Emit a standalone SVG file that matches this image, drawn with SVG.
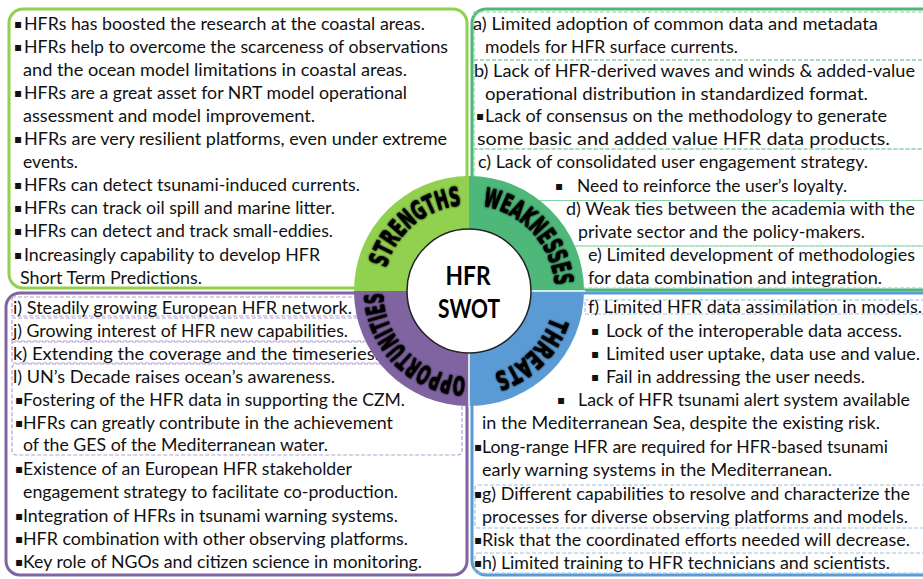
<svg xmlns="http://www.w3.org/2000/svg" width="923" height="579" viewBox="0 0 923 579">
<style>
.t{font-family:Lato,"Liberation Sans",sans-serif;font-size:17.3px;fill:#111}
.b{font-family:"DejaVu Sans",sans-serif;font-size:12px;fill:#111}
.box{fill:none;stroke-width:3}
.dw{fill:none;stroke:#86d3a6;stroke-width:1.2;stroke-dasharray:4 2}
.dt{fill:none;stroke:#9dc3e6;stroke-width:1.2;stroke-dasharray:4 2}
.dp{fill:none;stroke:#b4a2d4;stroke-width:1.2;stroke-dasharray:4 2}
.lab{font-family:"DejaVu Sans",sans-serif;font-weight:bold;font-size:26px;fill:#000;stroke:#000;stroke-width:0.6}
.ctr{font-family:Lato,"Liberation Sans",sans-serif;font-weight:bold;font-size:26px;fill:#000;text-anchor:middle}
</style>
<defs>
<path id="arc" d="M555,291 A86,86 0 1 1 383,291 A86,86 0 1 1 555,291"/>
<filter id="glow" x="-20%" y="-20%" width="140%" height="140%">
<feGaussianBlur in="SourceAlpha" stdDeviation="1.2" result="b"/>
<feMerge><feMergeNode in="b"/><feMergeNode in="SourceGraphic"/></feMerge>
</filter>
</defs>
<rect width="923" height="579" fill="#fff"/>

<g id="strengths">
<rect class="box" x="9" y="9" width="458" height="279" rx="14" stroke="#92d050"/>
<g class="b">
<text x="14" y="27.5">▪</text><text x="14" y="50.6">▪</text><text x="14" y="96.8">▪</text><text x="14" y="143">▪</text>
<text x="14" y="189.2">▪</text><text x="14" y="212.3">▪</text><text x="14" y="235.4">▪</text><text x="14" y="258.5">▪</text>
</g>
<g class="t">
<text x="24" y="29.5" textLength="401" lengthAdjust="spacingAndGlyphs">HFRs has boosted the research at the coastal areas.</text>
<text x="24" y="52.6" textLength="424" lengthAdjust="spacingAndGlyphs">HFRs help to overcome the scarceness of observations</text>
<text x="23" y="75.7" textLength="384" lengthAdjust="spacingAndGlyphs">and the ocean model limitations in coastal areas.</text>
<text x="24" y="98.8" textLength="383" lengthAdjust="spacingAndGlyphs">HFRs are a great asset for NRT model operational</text>
<text x="23" y="121.9" textLength="292" lengthAdjust="spacingAndGlyphs">assessment and model improvement.</text>
<text x="24" y="145" textLength="423" lengthAdjust="spacingAndGlyphs">HFRs are very resilient platforms, even under extreme</text>
<text x="23" y="168.1" textLength="55" lengthAdjust="spacingAndGlyphs">events.</text>
<text x="24" y="191.2" textLength="336" lengthAdjust="spacingAndGlyphs">HFRs can detect tsunami-induced currents.</text>
<text x="24" y="214.3" textLength="311" lengthAdjust="spacingAndGlyphs">HFRs can track oil spill and marine litter.</text>
<text x="24" y="237.4" textLength="309" lengthAdjust="spacingAndGlyphs">HFRs can detect and track small-eddies.</text>
<text x="24" y="260.5" textLength="296" lengthAdjust="spacingAndGlyphs">Increasingly capability to develop HFR</text>
<text x="20" y="283.6" textLength="182" lengthAdjust="spacingAndGlyphs">Short Term Predictions.</text>
</g>
</g>

<g id="weaknesses">
<rect class="box" x="472" y="9" width="500" height="281" rx="14" stroke="#4db879"/>
<rect class="dw" x="474" y="12" width="500" height="48"/>
<rect class="dw" x="474" y="60" width="500" height="89"/>
<rect class="dw" x="474" y="149" width="500" height="51.5"/>
<rect class="dw" x="474" y="200.5" width="500" height="45.5"/>
<rect class="dw" x="474" y="246" width="500" height="42"/>
<g class="b"><text x="476" y="120">▪</text><text x="555" y="190">▪</text></g>
<g class="t">
<text x="473" y="29.5" textLength="405" lengthAdjust="spacingAndGlyphs">a) Limited adoption of common data and metadata</text>
<text x="485" y="52.6" textLength="253" lengthAdjust="spacingAndGlyphs">models for HFR surface currents.</text>
<text x="474" y="76.5" textLength="441" lengthAdjust="spacingAndGlyphs">b) Lack of HFR-derived waves and winds &amp; added-value</text>
<text x="485" y="99.5" textLength="383" lengthAdjust="spacingAndGlyphs">operational distribution in standardized format.</text>
<text x="485" y="122" textLength="402" lengthAdjust="spacingAndGlyphs">Lack of consensus on the methodology to generate</text>
<text x="477" y="144.5" textLength="413" lengthAdjust="spacingAndGlyphs">some basic and added value HFR data products.</text>
<text x="478" y="168.3" textLength="390" lengthAdjust="spacingAndGlyphs">c) Lack of consolidated user engagement strategy.</text>
<text x="577" y="192" textLength="270" lengthAdjust="spacingAndGlyphs">Need to reinforce the user’s loyalty.</text>
<text x="566" y="215" textLength="349" lengthAdjust="spacingAndGlyphs">d) Weak ties between the academia with the</text>
<text x="578" y="238" textLength="287" lengthAdjust="spacingAndGlyphs">private sector and the policy-makers.</text>
<text x="588" y="261" textLength="327" lengthAdjust="spacingAndGlyphs">e) Limited development of methodologies</text>
<text x="588" y="284" textLength="294" lengthAdjust="spacingAndGlyphs">for data combination and integration.</text>
</g>
</g>

<g id="opportunities">
<rect class="box" x="6" y="293" width="461" height="282" rx="14" stroke="#8064a2"/>
<rect class="dp" x="12" y="297" width="370" height="19"/>
<rect class="dp" x="12" y="318" width="370" height="23"/>
<rect class="dp" x="12" y="342" width="370" height="21"/>
<rect class="dp" x="12" y="364" width="450" height="91" rx="4"/>
<g class="b">
<text x="15" y="404">▪</text><text x="15" y="427">▪</text><text x="15" y="473">▪</text>
<text x="15" y="519.5">▪</text><text x="15" y="543">▪</text><text x="15" y="566.3">▪</text>
</g>
<g class="t">
<text x="13" y="314" textLength="339" lengthAdjust="spacingAndGlyphs">i) Steadily growing European HFR network.</text>
<text x="13" y="337" textLength="335" lengthAdjust="spacingAndGlyphs">j) Growing interest of HFR new capabilities.</text>
<text x="13" y="359.5" textLength="366" lengthAdjust="spacingAndGlyphs">k) Extending the coverage and the timeseries.</text>
<text x="13" y="382.5" textLength="322" lengthAdjust="spacingAndGlyphs">l) UN’s Decade raises ocean’s awareness.</text>
<text x="23" y="406" textLength="382" lengthAdjust="spacingAndGlyphs">Fostering of the HFR data in supporting the CZM.</text>
<text x="23" y="429" textLength="370" lengthAdjust="spacingAndGlyphs">HFRs can greatly contribute in the achievement</text>
<text x="23" y="451" textLength="305" lengthAdjust="spacingAndGlyphs">of the GES of the Mediterranean water.</text>
<text x="23" y="475" textLength="329" lengthAdjust="spacingAndGlyphs">Existence of an European HFR stakeholder</text>
<text x="23" y="498.3" textLength="375" lengthAdjust="spacingAndGlyphs">engagement strategy to facilitate co-production.</text>
<text x="23" y="521.5" textLength="375" lengthAdjust="spacingAndGlyphs">Integration of HFRs in tsunami warning systems.</text>
<text x="23" y="545" textLength="385" lengthAdjust="spacingAndGlyphs">HFR combination with other observing platforms.</text>
<text x="23" y="568.3" textLength="399" lengthAdjust="spacingAndGlyphs">Key role of NGOs and citizen science in monitoring.</text>
</g>
</g>

<g id="threats">
<rect class="box" x="472" y="293" width="500" height="282" rx="14" stroke="#5b9bd5"/>
<rect class="dt" x="585" y="300" width="400" height="14"/>
<rect class="dt" x="475" y="485" width="500" height="43" rx="3"/>
<rect class="dt" x="475" y="553" width="500" height="20" rx="3"/>
<g class="b">
<text x="591" y="334.7">▪</text><text x="591" y="357.8">▪</text><text x="591" y="380.9">▪</text><text x="557" y="404">▪</text>
<text x="474" y="450.5">▪</text><text x="474" y="497.5">▪</text><text x="474" y="543.7">▪</text><text x="474" y="566.5">▪</text>
</g>
<g class="t">
<text x="588" y="313.3" textLength="334" lengthAdjust="spacingAndGlyphs">f) Limited HFR data assimilation in models.</text>
<text x="606" y="336.7" textLength="296" lengthAdjust="spacingAndGlyphs">Lock of the interoperable data access.</text>
<text x="606" y="359.8" textLength="314" lengthAdjust="spacingAndGlyphs">Limited user uptake, data use and value.</text>
<text x="606" y="382.9" textLength="259" lengthAdjust="spacingAndGlyphs">Fail in addressing the user needs.</text>
<text x="578" y="406" textLength="332" lengthAdjust="spacingAndGlyphs">Lack of HFR tsunami alert system available</text>
<text x="482" y="429" textLength="398" lengthAdjust="spacingAndGlyphs">in the Mediterranean Sea, despite the existing risk.</text>
<text x="482" y="452.5" textLength="406" lengthAdjust="spacingAndGlyphs">Long-range HFR are required for HFR-based tsunami</text>
<text x="482" y="476" textLength="350" lengthAdjust="spacingAndGlyphs">early warning systems in the Mediterranean.</text>
<text x="482" y="499.5" textLength="428" lengthAdjust="spacingAndGlyphs">g) Different capabilities to resolve and characterize the</text>
<text x="482" y="522.5" textLength="426" lengthAdjust="spacingAndGlyphs">processes for diverse observing platforms and models.</text>
<text x="482" y="545.7" textLength="428" lengthAdjust="spacingAndGlyphs">Risk that the coordinated efforts needed will decrease.</text>
<text x="482" y="568.5" textLength="408" lengthAdjust="spacingAndGlyphs">h) Limited training to HFR technicians and scientists.</text>
</g>
</g>

<g id="swot-ring">
<path d="M469,291 L354,291 A115,115 0 0 1 469,176 Z" fill="#92d050"/>
<path d="M469,291 L469,176 A115,115 0 0 1 584,291 Z" fill="#4db879"/>
<path d="M469,291 L584,291 A115,115 0 0 1 469,406 Z" fill="#5b9bd5"/>
<path d="M469,291 L469,406 A115,115 0 0 1 354,291 Z" fill="#8064a2"/>
<line x1="469" y1="291" x2="585" y2="291" stroke="#fff" stroke-width="1.5"/>
<line x1="469" y1="291" x2="469" y2="407" stroke="#fff" stroke-width="1.5"/>
<g class="lab" filter="url(#glow)">
<text><textPath href="#arc" startOffset="345" text-anchor="middle" textLength="104" lengthAdjust="spacingAndGlyphs">STRENGTHS</textPath></text>
<text><textPath href="#arc" startOffset="476" text-anchor="middle" textLength="116" lengthAdjust="spacingAndGlyphs">WEAKNESSES</textPath></text>
<text><textPath href="#arc" startOffset="68" text-anchor="middle" textLength="84" lengthAdjust="spacingAndGlyphs">THREATS</textPath></text>
<text><textPath href="#arc" startOffset="203" text-anchor="middle" textLength="130" lengthAdjust="spacingAndGlyphs">OPPORTUNITIES</textPath></text>
</g>
</g>

<g id="center">
<circle cx="469" cy="291" r="62" fill="#fff" stroke="#222" stroke-width="1.5"/>
<text class="ctr" x="468" y="285" textLength="45" lengthAdjust="spacingAndGlyphs">HFR</text>
<text class="ctr" x="469" y="318" textLength="62" lengthAdjust="spacingAndGlyphs">SWOT</text>
</g>
</svg>
